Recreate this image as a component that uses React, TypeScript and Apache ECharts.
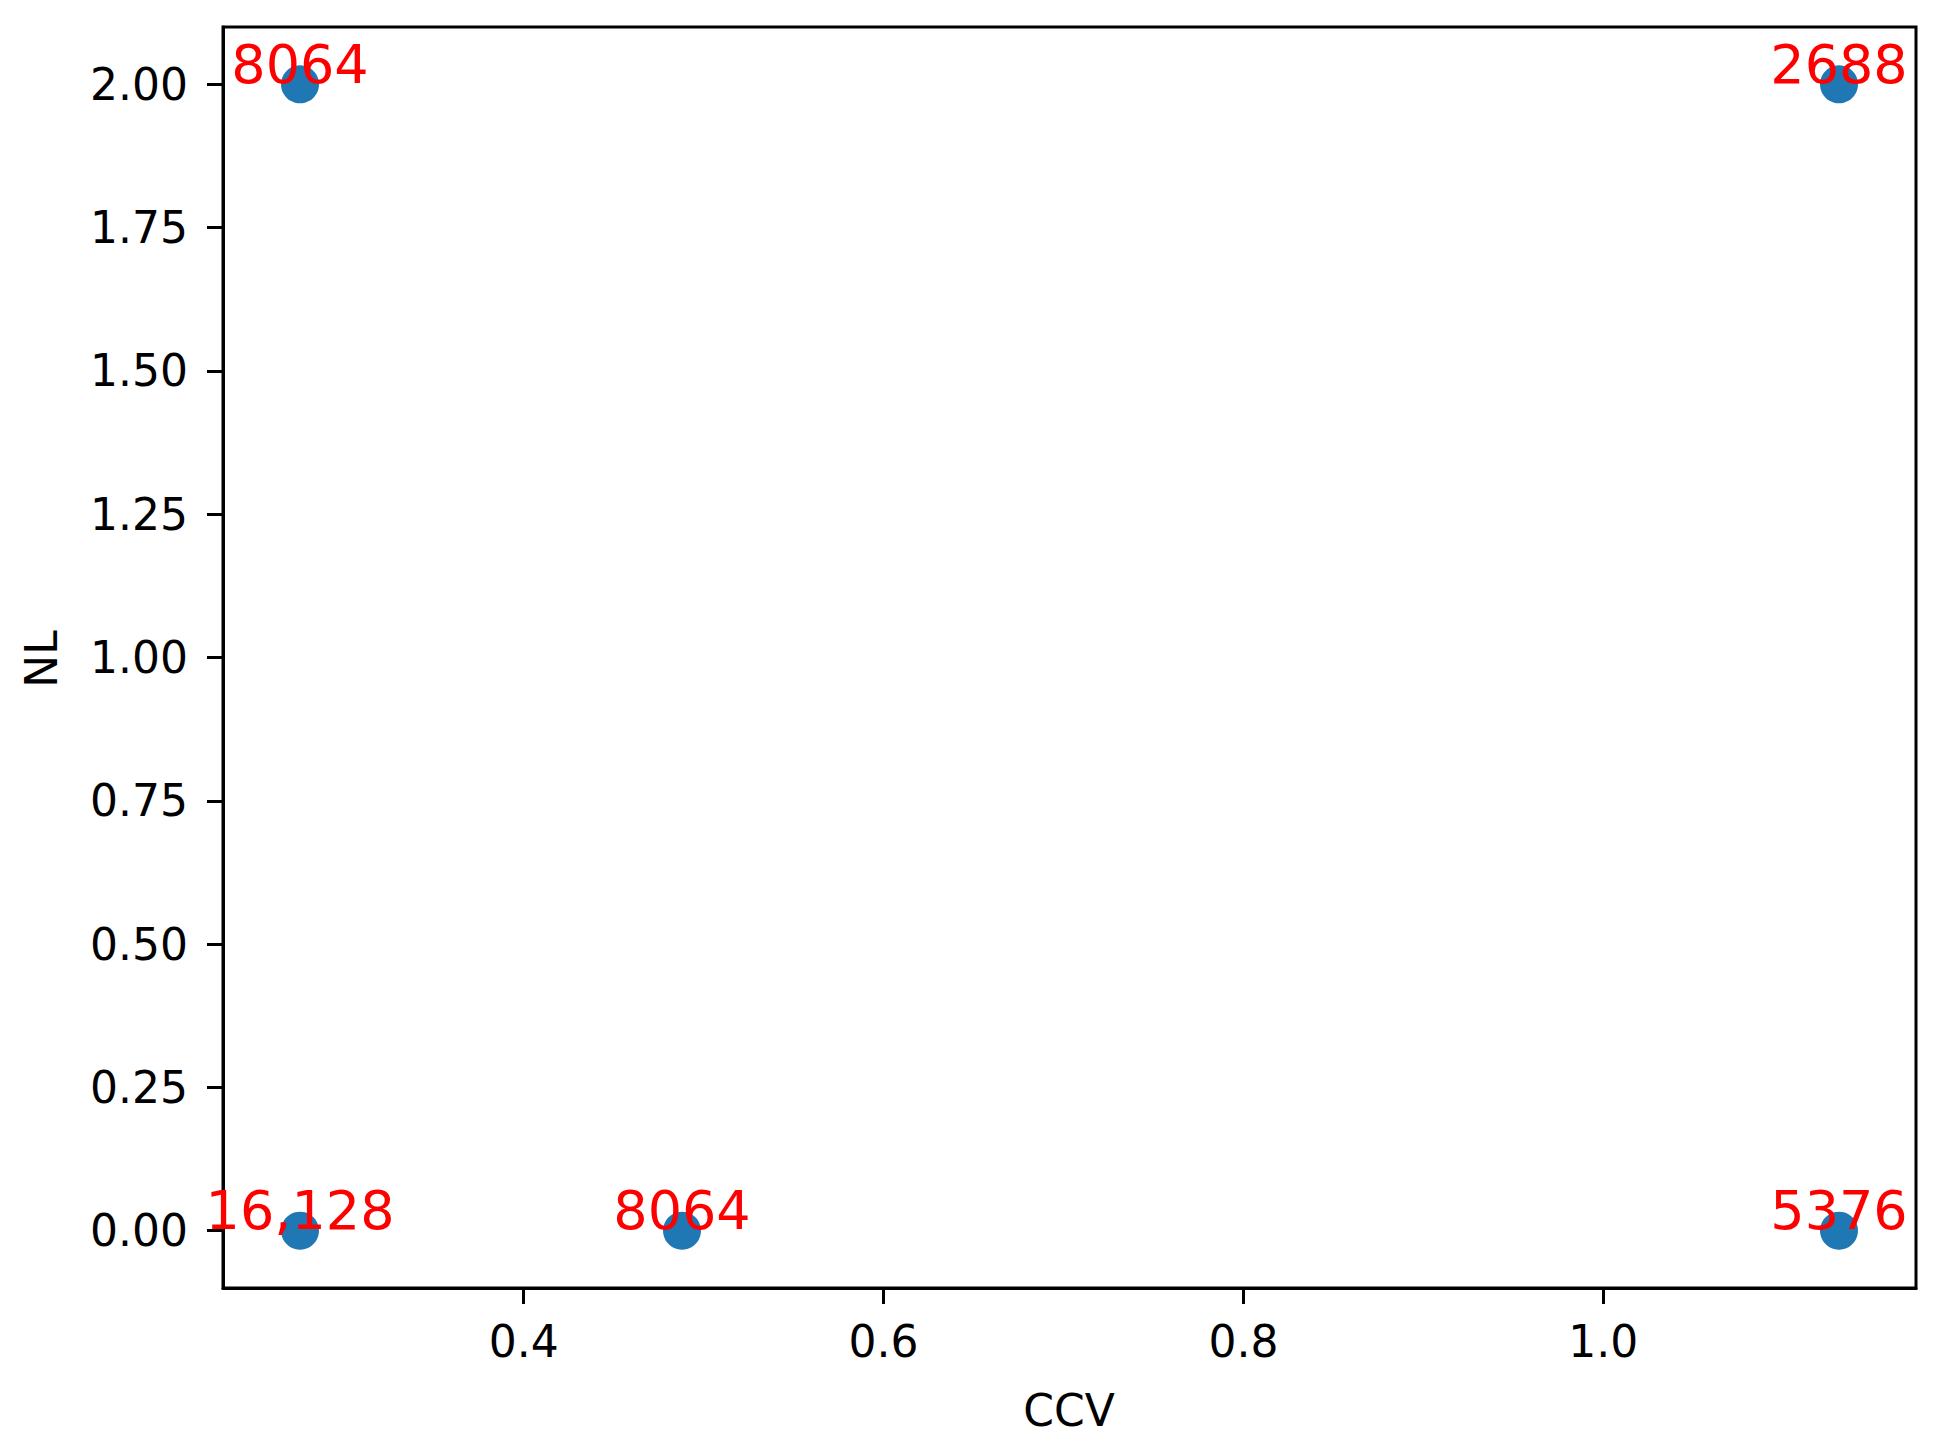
import React, { useEffect, useRef } from "react";
import * as echarts from "echarts";

const ccv = [0.2757, 0.2757, 0.488, 1.131, 1.131];
const nl = [2, 0, 0, 2, 0];
const counts = ["8064", "16,128", "8064", "2688", "5376"];
const xTicks = [0.4, 0.6, 0.8, 1.0];
const yTicks = [0, 0.25, 0.5, 0.75, 1.0, 1.25, 1.5, 1.75, 2.0];

const FONT = "DejaVu Sans";

export default function App() {
  const ref = useRef<HTMLDivElement>(null);
  useEffect(() => {
    document.body.style.margin = "0";
    const chart = echarts.init(ref.current!, null, { renderer: "svg" });
    const data = ccv.map((x, i) => ({ value: [x, nl[i]], name: counts[i] }));
    chart.setOption({
      animation: false,
      backgroundColor: "#ffffff",
      grid: {
        left: 223,
        top: 27,
        right: 44,
        bottom: 155,
        show: true,
        borderColor: "#000",
        borderWidth: 3,
        backgroundColor: "transparent",
      },
      xAxis: {
        type: "value",
        min: 0.2329,
        max: 1.1738,
        splitLine: { show: false },
        axisLine: { show: true, onZero: false, lineStyle: { color: "#000", width: 3 } },
        axisTick: { show: true, length: 16, lineStyle: { color: "#000", width: 3 }, customValues: xTicks },
        axisLabel: {
          customValues: xTicks,
          formatter: (v: number) => v.toFixed(1),
          color: "#000",
          fontFamily: FONT,
          fontSize: 44,
          margin: 31,
        },
      },
      yAxis: {
        type: "value",
        min: -0.1,
        max: 2.1,
        splitLine: { show: false },
        axisLine: { show: true, onZero: false, lineStyle: { color: "#000", width: 3 } },
        axisTick: { show: true, length: 16, lineStyle: { color: "#000", width: 3 }, customValues: yTicks },
        axisLabel: {
          customValues: yTicks,
          formatter: (v: number) => v.toFixed(2),
          color: "#000",
          fontFamily: FONT,
          fontSize: 44,
          margin: 35,
        },
      },
      graphic: [
        {
          type: "text",
          x: 1069,
          y: 1410,
          style: { text: "CCV", fontFamily: FONT, fontSize: 44, fill: "#000", align: "center", verticalAlign: "middle" },
        },
        {
          type: "text",
          x: 41,
          y: 659,
          rotation: Math.PI / 2,
          style: { text: "NL", fontFamily: FONT, fontSize: 44, fill: "#000", align: "center", verticalAlign: "middle" },
        },
      ],
      series: [
        {
          type: "scatter",
          data,
          symbol: "circle",
          symbolSize: 38,
          itemStyle: { color: "#1f77b4", opacity: 1 },
          label: {
            show: true,
            position: "inside",
            offset: [0, -20],
            formatter: (p: any) => p.name,
            color: "#ff0000",
            fontFamily: FONT,
            fontSize: 54,
            align: "center",
            verticalAlign: "middle",
          },
        },
      ],
    });
    return () => chart.dispose();
  }, []);
  return <div ref={ref} style={{ width: 1960, height: 1443 }} />;
}
